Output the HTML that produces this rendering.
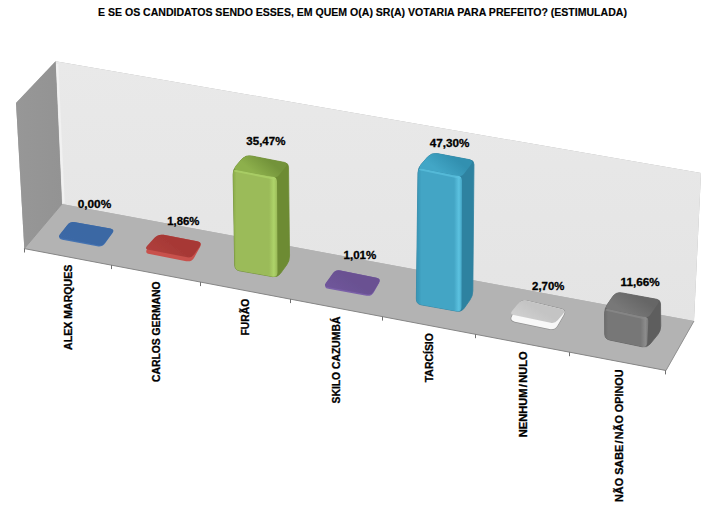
<!DOCTYPE html><html><head><meta charset="utf-8"><style>html,body{margin:0;padding:0;background:#fff;}svg{display:block}</style></head><body>
<svg width="709" height="515" viewBox="0 0 709 515">
<defs>
<linearGradient id="gBack" x1="0" y1="0" x2="0" y2="1"><stop offset="0" stop-color="#e9e9e9"/><stop offset="1" stop-color="#e4e4e4"/></linearGradient>
<linearGradient id="gLeft" x1="0" y1="0" x2="1" y2="0"><stop offset="0" stop-color="#979797"/><stop offset="1" stop-color="#939393"/></linearGradient>
<filter id="bl" x="-20%" y="-20%" width="140%" height="140%"><feGaussianBlur stdDeviation="0.7"/></filter>
</defs>
<rect width="709" height="515" fill="#fff"/>
<polygon points="16.00,103.00 55.60,61.20 701.00,173.00 694.00,321.00 666.00,370.50 24.30,248.60" fill="#b0b0b0"/>
<polygon points="55.60,61.20 701.00,173.00 694.00,321.00 62.00,204.00" fill="url(#gBack)"/>
<polygon points="16.00,103.00 55.60,61.20 62.00,204.00 24.30,248.60" fill="url(#gLeft)"/>
<path d="M57.2,64 L63.6,203" stroke="#f1f1f1" stroke-width="2.2" filter="url(#bl)"/>
<polygon points="24.30,248.60 62.00,204.00 694.00,321.00 666.00,370.50" fill="#b3b3b3"/>
<line x1="24.3" y1="248.6" x2="62" y2="204" stroke="#8e8e8e" stroke-width="0.8"/>
<line x1="24.3" y1="248.6" x2="666" y2="370.5" stroke="#878787" stroke-width="1"/>
<line x1="666" y1="370.5" x2="694" y2="321" stroke="#8c8c8c" stroke-width="0.9"/>
<line x1="24.5" y1="248.5" x2="24.5" y2="252.5" stroke="#707070" stroke-width="1"/>
<line x1="111.5" y1="265.1" x2="111.5" y2="269.1" stroke="#707070" stroke-width="1"/>
<line x1="200.5" y1="282.1" x2="200.5" y2="286.1" stroke="#707070" stroke-width="1"/>
<line x1="290.5" y1="299.1" x2="290.5" y2="303.1" stroke="#707070" stroke-width="1"/>
<line x1="382.5" y1="316.6" x2="382.5" y2="320.6" stroke="#707070" stroke-width="1"/>
<line x1="475.5" y1="334.2" x2="475.5" y2="338.2" stroke="#707070" stroke-width="1"/>
<line x1="569.5" y1="352.2" x2="569.5" y2="356.2" stroke="#707070" stroke-width="1"/>
<line x1="665.5" y1="370.4" x2="665.5" y2="374.4" stroke="#707070" stroke-width="1"/>
<linearGradient id="fb1" gradientUnits="userSpaceOnUse" x1="70.2" y1="221.3" x2="57.4" y2="238.7"><stop offset="0" stop-color="#3a67a4"/><stop offset="1" stop-color="#3c69a6"/></linearGradient>
<path d="M67.24,225.33 Q70.20,221.30 75.12,222.18 L110.28,228.42 Q115.20,229.30 112.27,233.35 L105.13,243.25 Q102.20,247.30 97.29,246.36 L62.31,239.64 Q57.40,238.70 60.36,234.67 Z" fill="#4674b2"/>
<path d="M67.10,225.22 Q70.20,221.30 75.12,222.18 L110.28,228.42 Q115.20,229.30 112.14,233.25 L104.65,242.94 Q102.20,246.10 98.27,245.35 L61.33,238.25 Q57.40,237.50 59.88,234.36 Z" fill="url(#fb1)" filter="url(#bl)"/>
<linearGradient id="fb2" gradientUnits="userSpaceOnUse" x1="158.2" y1="233.8" x2="144.2" y2="253"><stop offset="0" stop-color="#a73936"/><stop offset="1" stop-color="#b2413e"/></linearGradient>
<path d="M154.96,238.24 Q158.20,233.80 163.60,234.85 L197.20,241.35 Q202.60,242.40 199.93,247.21 L194.27,257.39 Q191.60,262.20 186.20,261.15 L149.60,254.05 Q144.20,253.00 147.44,248.56 Z" fill="#c8514c"/>
<path d="M154.47,237.85 Q158.20,233.80 163.60,234.85 L197.20,241.35 Q202.60,242.40 199.46,246.91 L194.11,254.59 Q191.60,258.20 187.28,257.36 L148.52,249.84 Q144.20,249.00 147.18,245.76 Z" fill="url(#fb2)" filter="url(#bl)"/>
<linearGradient id="fb3" gradientUnits="userSpaceOnUse" x1="335.6" y1="269.4" x2="323.4" y2="287.8"><stop offset="0" stop-color="#6a5192"/><stop offset="1" stop-color="#70569c"/></linearGradient>
<path d="M332.84,273.57 Q335.60,269.40 340.50,270.41 L376.50,277.79 Q381.40,278.80 378.95,283.16 L373.85,292.24 Q371.40,296.60 366.48,295.70 L328.32,288.70 Q323.40,287.80 326.16,283.63 Z" fill="#7a60a8"/>
<path d="M332.67,273.45 Q335.60,269.40 340.50,270.41 L376.50,277.79 Q381.40,278.80 378.79,283.06 L373.49,291.69 Q371.40,295.10 367.47,294.38 L327.33,287.02 Q323.40,286.30 325.74,283.06 Z" fill="url(#fb3)" filter="url(#bl)"/>
<linearGradient id="fb4" gradientUnits="userSpaceOnUse" x1="521.5" y1="299.6" x2="509.4" y2="320.6"><stop offset="0" stop-color="#c4c4c4"/><stop offset="1" stop-color="#d4d4d4"/></linearGradient>
<path d="M518.75,304.37 Q521.50,299.60 526.85,300.86 L561.05,308.94 Q566.40,310.20 563.64,314.96 L557.56,325.44 Q554.80,330.20 549.42,329.06 L514.78,321.74 Q509.40,320.60 512.15,315.83 Z" fill="#8f8f8f" transform="translate(0,0)" stroke="#8f8f8f" stroke-width="1.4" stroke-linejoin="round" opacity="0.9" filter="url(#bl)"/>
<path d="M518.75,304.37 Q521.50,299.60 526.85,300.86 L561.05,308.94 Q566.40,310.20 563.64,314.96 L557.56,325.44 Q554.80,330.20 549.42,329.06 L514.78,321.74 Q509.40,320.60 512.15,315.83 Z" fill="#f8f8f8"/>
<path d="M517.98,303.82 Q521.50,299.60 526.85,300.86 L561.05,308.94 Q566.40,310.20 562.82,314.37 L557.67,320.36 Q554.80,323.70 550.50,322.79 L513.70,315.01 Q509.40,314.10 512.22,310.72 Z" fill="url(#fb4)" filter="url(#bl)"/>
<linearGradient id="ggt" gradientUnits="userSpaceOnUse" x1="267.0" y1="159.0" x2="255.0" y2="173.5"><stop offset="0" stop-color="#73933a"/><stop offset="1" stop-color="#8db04c"/></linearGradient>
<linearGradient id="ggf" gradientUnits="userSpaceOnUse" x1="233" y1="0" x2="277" y2="0"><stop offset="0" stop-color="#8aab48"/><stop offset="0.08" stop-color="#9bbb59"/><stop offset="0.82" stop-color="#9bbb59"/><stop offset="0.93" stop-color="#aed46a"/><stop offset="1" stop-color="#9bbb59"/></linearGradient>
<path d="M241.61,159.37 Q245.50,154.80 251.39,155.95 L284.57,162.43 Q288.50,163.20 288.54,167.20 L289.54,256.00 Q289.60,261.00 286.64,265.03 L280.46,273.47 Q277.50,277.50 272.58,276.64 L239.72,270.86 Q234.80,270.00 234.71,265.00 L233.09,174.50 Q233.00,169.50 236.24,165.69 Z" fill="#6d8b33" stroke="#6d8b33" stroke-width="0.8"/>
<path d="M241.61,159.37 Q245.50,154.80 251.39,155.95 L283.59,162.24 Q288.50,163.20 285.37,167.10 L278.88,175.16 Q277.00,177.50 274.05,176.96 L236.94,170.22 Q233.00,169.50 235.59,166.45 Z" fill="url(#ggt)"/>
<path d="M233.07,173.50 Q233.00,169.50 236.94,170.22 L273.06,176.78 Q277.00,177.50 277.02,181.50 L277.48,272.50 Q277.50,277.50 272.58,276.64 L239.72,270.86 Q234.80,270.00 234.71,265.00 Z" fill="url(#ggf)"/>
<path d="M235,170.7 L275,178.7" stroke="#aed46a" stroke-width="2" stroke-linecap="round" opacity="0.7" filter="url(#bl)"/>
<linearGradient id="gct" gradientUnits="userSpaceOnUse" x1="452.75" y1="156.5" x2="440.0" y2="172.25"><stop offset="0" stop-color="#3290b0"/><stop offset="1" stop-color="#42a6c6"/></linearGradient>
<linearGradient id="gcf" gradientUnits="userSpaceOnUse" x1="418" y1="0" x2="462" y2="0"><stop offset="0" stop-color="#3a98b8"/><stop offset="0.08" stop-color="#43a5c5"/><stop offset="0.82" stop-color="#43a5c5"/><stop offset="0.93" stop-color="#5cc2e0"/><stop offset="1" stop-color="#43a5c5"/></linearGradient>
<path d="M427.56,157.02 Q431.50,152.50 437.40,153.61 L470.07,159.76 Q474.00,160.50 473.96,164.50 L472.84,291.00 Q472.80,296.00 469.92,300.08 L464.38,307.92 Q461.50,312.00 456.58,311.13 L421.22,304.87 Q416.30,304.00 416.36,299.00 L417.94,173.00 Q418.00,168.00 421.28,164.23 Z" fill="#2e82a0" stroke="#2e82a0" stroke-width="0.8"/>
<path d="M427.56,157.02 Q431.50,152.50 437.40,153.61 L469.09,159.58 Q474.00,160.50 471.00,164.50 L463.80,174.10 Q462.00,176.50 459.05,175.93 L421.93,168.76 Q418.00,168.00 420.63,164.98 Z" fill="url(#gct)"/>
<path d="M417.95,172.00 Q418.00,168.00 421.93,168.76 L458.07,175.74 Q462.00,176.50 461.99,180.50 L461.52,307.00 Q461.50,312.00 456.58,311.13 L421.22,304.87 Q416.30,304.00 416.36,299.00 Z" fill="url(#gcf)"/>
<path d="M420,169.2 L460,177.7" stroke="#5cc2e0" stroke-width="2" stroke-linecap="round" opacity="0.7" filter="url(#bl)"/>
<linearGradient id="gkt" gradientUnits="userSpaceOnUse" x1="638.25" y1="295.9" x2="626.55" y2="313.0"><stop offset="0" stop-color="#666666"/><stop offset="1" stop-color="#787878"/></linearGradient>
<linearGradient id="gkf" gradientUnits="userSpaceOnUse" x1="604.6" y1="0" x2="648.5" y2="0"><stop offset="0" stop-color="#6c6c6c"/><stop offset="0.08" stop-color="#777777"/><stop offset="0.82" stop-color="#777777"/><stop offset="0.93" stop-color="#8c8c8c"/><stop offset="1" stop-color="#777777"/></linearGradient>
<path d="M612.62,296.76 Q616.00,291.80 621.90,292.89 L656.57,299.28 Q660.50,300.00 660.54,304.00 L660.75,326.00 Q660.80,331.00 657.63,334.86 L650.17,343.94 Q647.00,347.80 642.11,346.78 L609.69,340.02 Q604.80,339.00 604.77,334.00 L604.63,313.50 Q604.60,308.50 607.42,304.37 Z" fill="#5e5e5e" stroke="#5e5e5e" stroke-width="0.8"/>
<path d="M612.62,296.76 Q616.00,291.80 621.90,292.89 L655.58,299.09 Q660.50,300.00 657.67,304.12 L650.20,315.03 Q648.50,317.50 645.56,316.90 L608.52,309.30 Q604.60,308.50 606.86,305.20 Z" fill="url(#gkt)"/>
<path d="M604.63,312.50 Q604.60,308.50 608.52,309.30 L644.58,316.70 Q648.50,317.50 648.30,321.50 L647.25,342.81 Q647.00,347.80 642.11,346.78 L609.69,340.02 Q604.80,339.00 604.77,334.00 Z" fill="url(#gkf)"/>
<path d="M606.6,309.7 L646.5,318.7" stroke="#8c8c8c" stroke-width="2" stroke-linecap="round" opacity="0.7" filter="url(#bl)"/>
<text x="98.0" y="16.2" font-size="11.2" font-family="Liberation Sans, Arial, sans-serif" font-weight="bold" fill="#000" text-anchor="start" stroke="#000" stroke-width="0.15" textLength="528.9" lengthAdjust="spacingAndGlyphs">E SE OS CANDIDATOS SENDO ESSES, EM QUEM O(A) SR(A) VOTARIA PARA PREFEITO? (ESTIMULADA)</text>
<text x="77.67" y="207.79" font-size="11.2" font-family="Liberation Sans, Arial, sans-serif" font-weight="bold" fill="#000" text-anchor="start" stroke="#000" stroke-width="0.3" textLength="33.56" lengthAdjust="spacingAndGlyphs">0,00%</text>
<text x="167.17" y="224.53" font-size="11.2" font-family="Liberation Sans, Arial, sans-serif" font-weight="bold" fill="#000" text-anchor="start" stroke="#000" stroke-width="0.3" textLength="32.23" lengthAdjust="spacingAndGlyphs">1,86%</text>
<text x="246.36" y="145.4" font-size="11.2" font-family="Liberation Sans, Arial, sans-serif" font-weight="bold" fill="#000" text-anchor="start" stroke="#000" stroke-width="0.3" textLength="39.07" lengthAdjust="spacingAndGlyphs">35,47%</text>
<text x="343.55" y="258.54" font-size="11.2" font-family="Liberation Sans, Arial, sans-serif" font-weight="bold" fill="#000" text-anchor="start" stroke="#000" stroke-width="0.3" textLength="32.76" lengthAdjust="spacingAndGlyphs">1,01%</text>
<text x="429.69" y="146.6" font-size="11.2" font-family="Liberation Sans, Arial, sans-serif" font-weight="bold" fill="#000" text-anchor="start" stroke="#000" stroke-width="0.3" textLength="39.64" lengthAdjust="spacingAndGlyphs">47,30%</text>
<text x="532.08" y="289.7" font-size="11.2" font-family="Liberation Sans, Arial, sans-serif" font-weight="bold" fill="#000" text-anchor="start" stroke="#000" stroke-width="0.3" textLength="32.24" lengthAdjust="spacingAndGlyphs">2,70%</text>
<text x="620.57" y="286.08" font-size="11.2" font-family="Liberation Sans, Arial, sans-serif" font-weight="bold" fill="#000" text-anchor="start" stroke="#000" stroke-width="0.3" textLength="39.08" lengthAdjust="spacingAndGlyphs">11,66%</text>
<text x="72.11" y="349.94" font-size="11.2" font-family="Liberation Sans, Arial, sans-serif" font-weight="bold" fill="#000" text-anchor="start" stroke="#000" stroke-width="0.3" textLength="85.21" lengthAdjust="spacingAndGlyphs" transform="rotate(-90 72.11 349.94)">ALEX MARQUES</text>
<text x="159.93" y="381.89" font-size="11.2" font-family="Liberation Sans, Arial, sans-serif" font-weight="bold" fill="#000" text-anchor="start" stroke="#000" stroke-width="0.3" textLength="100.4" lengthAdjust="spacingAndGlyphs" transform="rotate(-90 159.93 381.89)">CARLOS GERMANO</text>
<text x="248.96" y="335.45" font-size="11.2" font-family="Liberation Sans, Arial, sans-serif" font-weight="bold" fill="#000" text-anchor="start" stroke="#000" stroke-width="0.3" textLength="36.8" lengthAdjust="spacingAndGlyphs" transform="rotate(-90 248.96 335.45)">FURÃO</text>
<text x="340.39" y="403.51" font-size="11.2" font-family="Liberation Sans, Arial, sans-serif" font-weight="bold" fill="#000" text-anchor="start" stroke="#000" stroke-width="0.3" textLength="86.95" lengthAdjust="spacingAndGlyphs" transform="rotate(-90 340.39 403.51)">SKILO CAZUMBÁ</text>
<text x="433.0" y="382.26" font-size="11.2" font-family="Liberation Sans, Arial, sans-serif" font-weight="bold" fill="#000" text-anchor="start" stroke="#000" stroke-width="0.3" textLength="49.16" lengthAdjust="spacingAndGlyphs" transform="rotate(-90 433.0 382.26)">TARCÍSIO</text>
<text x="527.38" y="437.14" font-size="11.2" font-family="Liberation Sans, Arial, sans-serif" font-weight="bold" fill="#000" text-anchor="start" stroke="#000" stroke-width="0.3" textLength="85.8" lengthAdjust="spacingAndGlyphs" transform="rotate(-90 527.38 437.14)">NENHUM<tspan dx="1.3">/</tspan><tspan dx="1.3">NULO</tspan></text>
<text x="623.46" y="501.95" font-size="11.2" font-family="Liberation Sans, Arial, sans-serif" font-weight="bold" fill="#000" text-anchor="start" stroke="#000" stroke-width="0.3" textLength="132.55" lengthAdjust="spacingAndGlyphs" transform="rotate(-90 623.46 501.95)">NÃO SABE<tspan dx="1.3">/</tspan><tspan dx="1.3">NÃO OPINOU</tspan></text>
</svg></body></html>
